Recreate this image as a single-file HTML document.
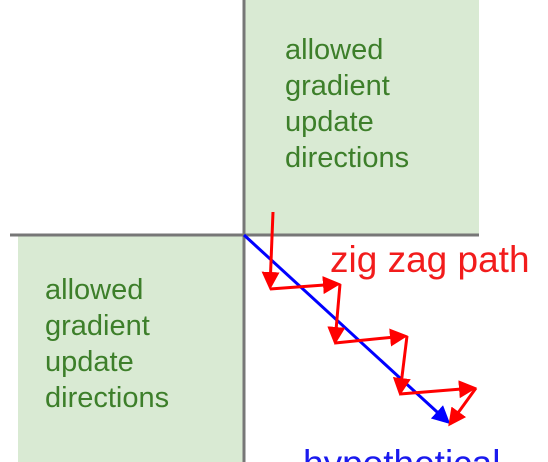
<!DOCTYPE html>
<html><head><style>
html,body{margin:0;padding:0;background:#fff;width:548px;height:462px;overflow:hidden;position:relative;font-family:"Liberation Sans",sans-serif}
.g{position:absolute;background:#d9ead3}
.t{position:absolute;color:#3d7f2a;font-size:29px;line-height:36px}
</style></head><body>
<div class="g" style="left:244px;top:0;width:235px;height:234px"></div>
<div class="g" style="left:18px;top:236px;width:226px;height:226px"></div>
<div class="t" style="left:285px;top:32px">allowed<br>gradient<br>update<br>directions</div>
<div class="t" style="left:45px;top:272px">allowed<br>gradient<br>update<br>directions</div>
<div style="position:absolute;left:330px;top:240px;color:#f21c1c;font-size:37px;line-height:40px">zig zag path</div>
<div style="position:absolute;left:303px;top:444px;color:#1a1aee;font-size:37px;line-height:40px">hypothetical</div>
<svg width="548" height="462" style="position:absolute;left:0;top:0">
<defs>
<marker id="r" markerWidth="6" markerHeight="6" refX="5" refY="3" orient="auto" markerUnits="strokeWidth"><path d="M0,0 L6,3 L0,6 z" fill="#f00"/></marker>
<marker id="b" markerWidth="6" markerHeight="6" refX="5" refY="3" orient="auto" markerUnits="strokeWidth"><path d="M0,0 L6,3 L0,6 z" fill="#00f"/></marker>
</defs>
<line x1="244" y1="0" x2="244" y2="462" stroke="#777" stroke-width="3"/>
<line x1="10" y1="235" x2="479" y2="235" stroke="#777" stroke-width="3"/>
<line x1="244" y1="235" x2="448" y2="422" stroke="#00f" stroke-width="3" marker-end="url(#b)"/>
<g stroke="#f00" stroke-width="3" fill="none">
<line x1="273" y1="212" x2="270" y2="287" marker-end="url(#r)"/>
<line x1="270" y1="289" x2="338" y2="284" marker-end="url(#r)"/>
<line x1="340" y1="284" x2="335" y2="342" marker-end="url(#r)"/>
<line x1="335" y1="343" x2="405" y2="336" marker-end="url(#r)"/>
<line x1="407" y1="336" x2="400" y2="393" marker-end="url(#r)"/>
<line x1="400" y1="394" x2="474" y2="388" marker-end="url(#r)"/>
<line x1="476" y1="388" x2="450" y2="424" marker-end="url(#r)"/>
</g>
</svg>
</body></html>
